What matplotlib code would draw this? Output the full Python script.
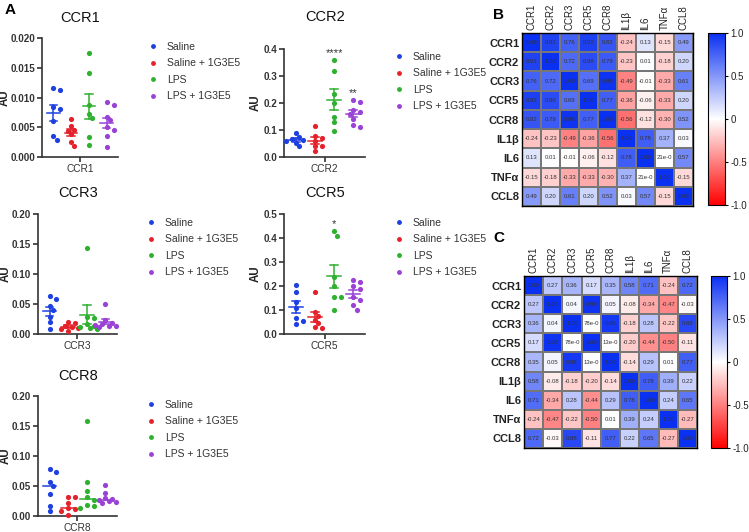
import numpy as np
import matplotlib.pyplot as plt
from matplotlib.colors import LinearSegmentedColormap
from matplotlib.lines import Line2D

plt.rcParams['font.family'] = ['Liberation Sans', 'DejaVu Sans']

W, H = 749, 532

groups = ['Saline', 'Saline + 1G3E5', 'LPS', 'LPS + 1G3E5']
group_colors = ['#1f40e0', '#e5222b', '#2fb02f', '#9a42d6']

# panel A data (AU), one list per group
ccr1 = [[0.0116, 0.0113, 0.0084, 0.0080, 0.0060, 0.0035, 0.0029],
        [0.0064, 0.0052, 0.0046, 0.0044, 0.0038, 0.0025, 0.0018],
        [0.0174, 0.0142, 0.0087, 0.0073, 0.0066, 0.0034, 0.0020],
        [0.0092, 0.0087, 0.0068, 0.0062, 0.0050, 0.0045, 0.0036, 0.0016]]
ccr2 = [[0.088, 0.075, 0.065, 0.062, 0.058, 0.053, 0.040],
        [0.115, 0.078, 0.070, 0.060, 0.042, 0.040, 0.022],
        [0.360, 0.320, 0.235, 0.200, 0.150, 0.130, 0.095],
        [0.210, 0.205, 0.175, 0.165, 0.160, 0.140, 0.120, 0.110]]
ccr3 = [[0.063, 0.058, 0.047, 0.040, 0.028, 0.020, 0.009],
        [0.020, 0.018, 0.014, 0.012, 0.010, 0.008, 0.005],
        [0.143, 0.028, 0.027, 0.016, 0.013, 0.011, 0.010, 0.008],
        [0.050, 0.024, 0.019, 0.017, 0.015, 0.014, 0.013, 0.012]]
ccr5 = [[0.205, 0.175, 0.135, 0.110, 0.065, 0.055, 0.040],
        [0.177, 0.090, 0.075, 0.060, 0.045, 0.030, 0.025],
        [0.428, 0.410, 0.237, 0.198, 0.156, 0.153, 0.098],
        [0.226, 0.216, 0.198, 0.188, 0.153, 0.142, 0.119, 0.102]]
ccr8 = [[0.079, 0.074, 0.057, 0.050, 0.036, 0.017, 0.009],
        [0.032, 0.031, 0.021, 0.013, 0.011, 0.009, 0.002],
        [0.159, 0.056, 0.041, 0.031, 0.027, 0.018, 0.017, 0.014],
        [0.052, 0.039, 0.030, 0.028, 0.027, 0.025, 0.024, 0.022]]
ccr2_stars = ['', '', '****', '**']
ccr5_stars = ['', '', '*', '']

# panels B / C correlation matrices
corr_labels = ['CCR1', 'CCR2', 'CCR3', 'CCR5', 'CCR8', 'IL1β', 'IL6', 'TNFα', 'CCL8']
corr_b = [[1.00, 0.91, 0.76, 0.92, 0.82, -0.24, 0.13, -0.15, 0.49],
          [0.91, 1.00, 0.72, 0.86, 0.79, -0.23, 0.01, -0.18, 0.20],
          [0.76, 0.72, 1.00, 0.69, 0.98, -0.49, -0.01, -0.33, 0.61],
          [0.92, 0.86, 0.69, 1.00, 0.77, -0.36, -0.06, -0.33, 0.20],
          [0.82, 0.79, 0.98, 0.77, 1.00, -0.56, -0.12, -0.30, 0.52],
          [-0.24, -0.23, -0.49, -0.36, -0.56, 1.00, 0.78, 0.37, 0.03],
          [0.13, 0.01, -0.01, -0.06, -0.12, 0.78, 1.00, 0.00, 0.57],
          [-0.15, -0.18, -0.33, -0.33, -0.30, 0.37, 0.00, 1.00, -0.15],
          [0.49, 0.20, 0.61, 0.20, 0.52, 0.03, 0.57, -0.15, 1.00]]
corr_c = [[1.00, 0.27, 0.36, 0.17, 0.35, 0.58, 0.71, -0.24, 0.72],
          [0.27, 1.00, 0.04, 0.98, 0.05, -0.08, -0.34, -0.47, -0.03],
          [0.36, 0.04, 1.00, 0.00, 0.96, -0.18, 0.28, -0.22, 0.88],
          [0.17, 0.98, 0.00, 1.00, 0.00, -0.20, -0.44, -0.50, -0.11],
          [0.35, 0.05, 0.96, 0.00, 1.00, -0.14, 0.29, 0.01, 0.77],
          [0.58, -0.08, -0.18, -0.20, -0.14, 1.00, 0.78, 0.39, 0.22],
          [0.71, -0.34, 0.28, -0.44, 0.29, 0.78, 1.00, 0.24, 0.65],
          [-0.24, -0.47, -0.22, -0.50, 0.01, 0.39, 0.24, 1.00, -0.27],
          [0.72, -0.03, 0.88, -0.11, 0.77, 0.22, 0.65, -0.27, 1.00]]
# tiny values printed in exponent form (cut off by the cell)
small_b = {(6, 7): '21e-0', (7, 6): '21e-0'}
small_c = {(2, 3): '78e-0', (3, 2): '78e-0', (3, 4): '13e-0', (4, 3): '13e-0'}

fig = plt.figure(figsize=(W / 100, H / 100), dpi=100)


def px_axes(l, t, r, b):
    return fig.add_axes([l / W, 1 - b / H, (r - l) / W, (b - t) / H])


def swarm(vals, px_y, px_x, d=4.6, step=3.4, kmax=3):
    # simple beeswarm, allowed to overlap when crowded
    order = np.argsort(vals)[::-1]
    placed = []
    offs = np.zeros(len(vals))
    for i in order:
        y = vals[i] * px_y
        best, best_gap = 0.0, -1
        for k in range(kmax + 1):
            for s in ([0] if k == 0 else [1, -1]):
                dx = s * k * step
                gap = min([np.hypot(dx - px, y - py) for px, py in placed] + [99])
                if gap >= d:
                    best, best_gap = dx, 999
                    break
                if gap > best_gap:
                    best, best_gap = dx, gap
            if best_gap == 999:
                break
        placed.append((best, y))
        offs[i] = best / px_x
    return offs


def dot_panel(box, name, data, ymax, ystep, fmt, stat, title_xy, leg_xy, au_x, stars=None):
    ax = px_axes(*box)
    xlim = (-0.62, 3.62)
    ax.set_xlim(*xlim)
    ax.set_ylim(0, ymax)
    px_y = (box[3] - box[1]) / ymax
    px_x = (box[2] - box[0]) / (xlim[1] - xlim[0])
    for g, vals in enumerate(data):
        vals = np.array(vals)
        xs = g + swarm(vals, px_y, px_x)
        ax.scatter(xs, vals, s=14, color=group_colors[g], lw=0, zorder=3, clip_on=False)
        if stat == 'mean':
            m = vals.mean()
            sem = vals.std(ddof=1) / np.sqrt(len(vals))
            ax.plot([g - 0.36, g + 0.36], [m, m], color=group_colors[g], lw=1.1, zorder=4)
            ax.plot([g, g], [m - sem, m + sem], color=group_colors[g], lw=1.1, zorder=4)
            for e in (m - sem, m + sem):
                ax.plot([g - 0.2, g + 0.2], [e, e], color=group_colors[g], lw=1.1, zorder=4)
        else:
            m = np.median(vals)
            ax.plot([g - 0.36, g + 0.36], [m, m], color=group_colors[g], lw=1.1, zorder=4)
        if stars and stars[g]:
            ax.annotate(stars[g], (g, vals.max()), xytext=(0, 1.5), textcoords='offset points',
                        ha='center', va='bottom', fontsize=8, color='#333333')
    for sp in ['top', 'right']:
        ax.spines[sp].set_visible(False)
    for sp in ['left', 'bottom']:
        ax.spines[sp].set_linewidth(1.2)
        ax.spines[sp].set_color('#333333')
    ticks = np.arange(0, ymax + ystep / 2, ystep)
    ax.set_yticks(ticks)
    ax.set_yticklabels([fmt.format(t) for t in ticks], fontsize=7.1, fontweight='bold', color='#333333')
    ax.set_xticks([1.5])
    ax.set_xticklabels([name], fontsize=7.3, color='#333333')
    ax.tick_params(length=3.5, width=1.2, color='#333333', pad=1.5)
    ax.set_ylabel('AU', fontsize=8.3, fontweight='bold', color='#222222')
    ax.yaxis.set_label_coords((au_x - box[0]) / (box[2] - box[0]), 0.5)
    fig.text(title_xy[0] / W, 1 - title_xy[1] / H, name, ha='center', va='center',
             fontsize=10.5, color='#111111')
    handles = [Line2D([], [], ls='none', marker='o', ms=3.5, mew=0, color=c) for c in group_colors]
    fig.legend(handles, groups, loc='upper left', bbox_to_anchor=(leg_xy[0] / W, 1 - leg_xy[1] / H),
               frameon=False, fontsize=7.5, handlelength=0.6, handletextpad=1.0,
               labelspacing=0.62, borderpad=0, borderaxespad=0, labelcolor='#333333')
    return ax


dot_panel((42, 38, 118, 157), 'CCR1', ccr1, 0.020, 0.005, '{:.3f}', 'mean', (80, 18), (150, 42), 11)
dot_panel((284, 49, 365, 157), 'CCR2', ccr2, 0.4, 0.1, '{:.1f}', 'mean', (325, 17), (396, 52), 262, ccr2_stars)
dot_panel((38, 214, 117, 334), 'CCR3', ccr3, 0.20, 0.05, '{:.2f}', 'mean', (78, 193), (148, 218), 12)
dot_panel((284, 214, 365, 334), 'CCR5', ccr5, 0.5, 0.1, '{:.1f}', 'mean', (325, 193), (396, 218), 262, ccr5_stars)
dot_panel((38, 396, 117, 516), 'CCR8', ccr8, 0.20, 0.05, '{:.2f}', 'median', (78, 376), (148, 400), 12)

cmap = LinearSegmentedColormap.from_list('rwb', ['#ff0000', '#ffffff', '#0a30f2'])


def corr_panel(box, cbox, mat, small):
    ax = px_axes(*box)
    mat = np.array(mat)
    n = len(corr_labels)
    im = ax.pcolormesh(mat, cmap=cmap, vmin=-1, vmax=1, edgecolors='#777777', linewidth=0.3)
    ax.set_xlim(0, n)
    ax.set_ylim(n, 0)
    for i in range(n):
        for j in range(n):
            txt = small.get((i, j), '{:.2f}'.format(mat[i, j]))
            ax.text(j + 0.5, i + 0.5, txt, ha='center', va='center', fontsize=4.3, color='#333333')
    ax.set_xticks(np.arange(n) + 0.5)
    ax.set_yticks(np.arange(n) + 0.5)
    ax.xaxis.tick_top()
    ax.set_xticklabels(corr_labels, rotation=90, fontsize=7, color='#222222')
    ax.set_yticklabels(corr_labels, fontsize=8, fontweight='bold', color='#222222')
    ax.tick_params(length=0, pad=2)
    for sp in ax.spines.values():
        sp.set_linewidth(1)
    cax = px_axes(*cbox)
    cb = fig.colorbar(im, cax=cax, ticks=[-1, -0.5, 0, 0.5, 1])
    cb.ax.set_yticklabels(['-1.0', '-0.5', '0', '0.5', '1.0'], fontsize=7, color='#222222')
    cb.ax.tick_params(length=2.5, width=0.8, pad=1.5)
    cb.outline.set_linewidth(0.8)


corr_panel((522, 33, 693, 206), (708, 33, 725, 205), corr_b, small_b)
corr_panel((524, 276, 697, 448), (711, 276, 727, 448), corr_c, small_c)

for lab, x, y in [('A', 5, 10), ('B', 493, 15), ('C', 493, 238)]:
    fig.text(x / W, 1 - y / H, lab, fontsize=11, fontweight='bold', ha='left', va='center')

fig.savefig('out.png', dpi=100)
